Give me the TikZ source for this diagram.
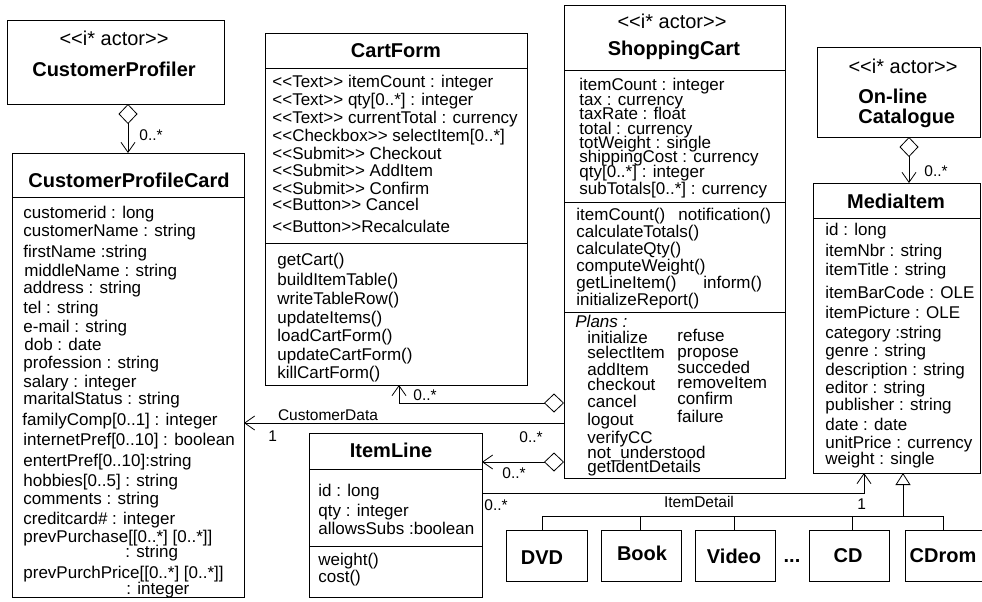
\documentclass[tikz,border=0pt]{standalone}
\usepackage{fontspec}
\newfontfamily\uf{Liberation Sans}[Ligatures=TeXOff]
\usetikzlibrary{arrows.meta}
\begin{document}
\begin{tikzpicture}[x=1pt,y=-1pt,line width=0.8pt,
  box/.style={draw, inner sep=0pt, outer sep=0pt, anchor=north west},
  tx/.style={inner sep=0pt, anchor=base west, font=\uf\fontsize{17}{17}\selectfont},
  ttl/.style={inner sep=0pt, anchor=base, font=\uf\bfseries\fontsize{20}{20}\selectfont},
  ttlw/.style={inner sep=0pt, anchor=base west, font=\uf\bfseries\fontsize{20}{20}\selectfont},
  stereo/.style={inner sep=0pt, anchor=base, font=\uf\fontsize{20}{20}\selectfont},
  lbl/.style={inner sep=0pt, anchor=base west, font=\uf\fontsize{15.5}{15.5}\selectfont},
  agg/.style={{Diamond[open,length=20pt,width=19pt]}-{Straight Barb[length=10pt,width=14pt]}},
  nav/.style={-{Straight Barb[length=10pt,width=14pt]}},
  gen/.style={-{Triangle[open,length=12pt,width=15pt]}},
  sep/.style={line width=0.8pt}]
\useasboundingbox (0,0) rectangle (982,602);
\fill[white] (0,0) rectangle (982,602);

% ---------- boxes ----------
\node[box, minimum width=217pt, minimum height=84pt] (cprof) at (7,20) {};
\node[box, minimum width=232pt, minimum height=444pt] (cpc) at (12,153) {};
\node[box, minimum width=262pt, minimum height=352pt] (cf) at (265,33) {};
\node[box, minimum width=221pt, minimum height=473pt] (cart) at (564,5) {};
\node[box, minimum width=163pt, minimum height=90pt] (cat) at (817,47) {};
\node[box, minimum width=167pt, minimum height=290pt] (media) at (813,183) {};
\node[box, minimum width=173pt, minimum height=164pt] (il) at (309,433) {};
\node[box, minimum width=81pt, minimum height=51pt] (dvd) at (506,530) {};
\node[box, minimum width=80pt, minimum height=51pt] (book) at (601,530) {};
\node[box, minimum width=80pt, minimum height=51pt] (video) at (695,530) {};
\node[box, minimum width=80pt, minimum height=51pt] (cd) at (809,530) {};
\node[box, minimum width=85pt, minimum height=51pt] (cdrom) at (905,530) {};

% ---------- compartment separators ----------
\draw[sep] (12,197) -- (244,197);
\draw[sep] (265,68) -- (527,68);
\draw[sep] (265,243) -- (527,243);
\draw[sep] (564,70) -- (785,70);
\draw[sep] (564,202) -- (785,202);
\draw[sep] (564,312) -- (785,312);
\draw[sep] (813,218) -- (980,218);
\draw[sep] (309,469) -- (482,469);
\draw[sep] (309,546) -- (482,546);

% ---------- titles ----------
\node[stereo] (cprofst) at (114,46) {<<i* actor>>};
\node[ttl] (cproft) at (114,77) {CustomerProfiler};
\node[ttl] (cpct) at (129,187) {CustomerProfileCard};
\node[ttl] (cft) at (396,58) {CartForm};
\node[stereo] (cartst) at (672,29) {<<i* actor>>};
\node[ttl] (cartt) at (674,56) {ShoppingCart};
\node[stereo] (catst) at (903,74) {<<i* actor>>};
\node[ttlw] (catt1) at (858,103) {On-line};
\node[ttlw] (catt2) at (858,123) {Catalogue};
\node[ttl] (mediat) at (896,208) {MediaItem};
\node[ttl] (ilt) at (391,457) {ItemLine};
\node[ttl] (dvdt) at (542,564) {DVD};
\node[ttl] (bookt) at (642,560) {Book};
\node[ttl] (videot) at (734,563) {Video};
\node[ttl] (dots) at (792,562) {...};
\node[ttl] (cdt) at (848,562) {CD};
\node[ttl] (cdromt) at (943,562) {CDrom};

% ---------- CustomerProfileCard attributes ----------
\foreach \xx/\yy/\ltext [count=\i] in {
  23/218/{customerid : long}, 23/236/{customerName : string}, 23/257/{firstName :string},
  24/276/{middleName : string}, 23/293/{address : string}, 23/313/{tel : string},
  23/332/{e-mail : string}, 24/350/{dob : date}, 23/368/{profession : string},
  23/387/{salary : integer}, 23/404/{maritalStatus : string}, 22/425/{familyComp[0..1] : integer},
  23/445/{internetPref[0..10] : boolean}, 23/466/{entertPref[0..10]:string},
  23/486/{hobbies[0..5] : string}, 23/504/{comments : string}, 23/524/{creditcard\# : integer},
  23/542/{prevPurchase[[0..*] [0..*]]}, 125/557/{: string},
  23/578/{prevPurchPrice[[0..*] [0..*]]}, 126/594/{: integer}}
  \node[tx] (cpca\i) at (\xx,\yy) {\ltext};

% ---------- CartForm ----------
\foreach \yy/\ltext [count=\i] in {
  88/{<<Text>> itemCount : integer}, 105/{<<Text>> qty[0..*] : integer},
  123/{<<Text>> currentTotal : currency}, 141/{<<Checkbox>> selectItem[0..*]},
  159/{<<Submit>> Checkout}, 176/{<<Submit>> AddItem}, 194/{<<Submit>> Confirm},
  210/{<<Button>> Cancel}, 232/{<<Button>>Recalculate}}
  \node[tx] (cfa\i) at (272,\yy) {\ltext};
\foreach \yy/\ltext [count=\i] in {
  265/{getCart()}, 285/{buildItemTable()}, 304/{writeTableRow()}, 323/{updateItems()},
  341/{loadCartForm()}, 360/{updateCartForm()}, 378/{killCartForm()}}
  \node[tx] (cfm\i) at (277,\yy) {\ltext};

% ---------- ShoppingCart ----------
\foreach \yy/\ltext [count=\i] in {
  90/{itemCount : integer}, 105/{tax : currency}, 119/{taxRate : float},
  134/{total : currency}, 148/{totWeight : single}, 162/{shippingCost : currency},
  177/{qty[0..*] : integer}, 194/{subTotals[0..*] : currency}}
  \node[tx] (carta\i) at (579,\yy) {\ltext};
\foreach \yy/\ltext [count=\i] in {
  220/{itemCount()}, 237/{calculateTotals()}, 254/{calculateQty()},
  271/{computeWeight()}, 288/{getLineItem()}, 305/{initializeReport()}}
  \node[tx] (cartm\i) at (576,\yy) {\ltext};
\node[tx] (cartm7) at (678,220) {notification()};
\node[tx] (cartm8) at (703,288) {inform()};
\node[tx, font=\uf\itshape\fontsize{17}{17}\selectfont] (plans) at (575,327) {Plans :};
\foreach \yy/\ltext [count=\i] in {
  343/{initialize}, 358/{selectItem}, 375/{addItem}, 390/{checkout}, 407/{cancel},
  425/{logout}, 443/{verifyCC}, 458/{not\_understood}, 472/{getIdentDetails}}
  \node[tx] (planl\i) at (587,\yy) {\ltext};
\foreach \yy/\ltext [count=\i] in {
  341/{refuse}, 357/{propose}, 373/{succeded}, 388/{removeItem}, 404/{confirm}, 422/{failure}}
  \node[tx] (planr\i) at (677,\yy) {\ltext};

% ---------- MediaItem ----------
\foreach \yy/\ltext [count=\i] in {
  235/{id : long}, 256/{itemNbr : string}, 275/{itemTitle : string},
  298/{itemBarCode : OLE}, 318/{itemPicture : OLE}, 338/{category :string},
  356/{genre : string}, 375/{description : string}, 393/{editor : string},
  410/{publisher : string}, 430/{date : date}, 448/{unitPrice : currency}, 464/{weight : single}}
  \node[tx] (mediaa\i) at (825,\yy) {\ltext};

% ---------- ItemLine ----------
\foreach \yy/\ltext [count=\i] in {
  496/{id : long}, 516/{qty : integer}, 534/{allowsSubs :boolean}, 565/{weight()}, 582/{cost()}}
  \node[tx] (ila\i) at (318,\yy) {\ltext};

% ---------- connectors ----------
\coordinate (kx1) at (128,0);
\coordinate (kx2) at (909,0);
\coordinate (ky1) at (0,403);
\coordinate (kx3) at (399,0);
\coordinate (ky2) at (0,423);
\coordinate (ky3) at (0,462);
\coordinate (ky4) at (0,493);
\coordinate (kx4) at (864,0);
\coordinate (kx5) at (903,0);
\coordinate (ky5) at (0,516);
\coordinate (gdvd) at (542,0);
\coordinate (gbook) at (640,0);
\coordinate (gvideo) at (734,0);
\coordinate (gcd) at (852,0);
\coordinate (gcdrom) at (943,0);

\draw[agg] (cprof.south -| kx1) -- (cpc.north -| kx1);
\draw[agg] (cat.south -| kx2) -- (media.north -| kx2);
\draw[agg] (cart.west |- ky1) -- (kx3 |- ky1) -- (cf.south -| kx3);
\draw[nav] (cart.west |- ky2) -- (cpc.east |- ky2);
\draw[agg] (cart.west |- ky3) -- (il.east |- ky3);
\draw[nav] (il.east |- ky4) -- (kx4 |- ky4) -- (media.south -| kx4);
\draw[gen] (kx5 |- ky5) -- (media.south -| kx5);
\draw (gdvd |- ky5) -- (gcdrom |- ky5);
\draw (gdvd |- ky5) -- (dvd.north -| gdvd);
\draw (gbook |- ky5) -- (book.north -| gbook);
\draw (gvideo |- ky5) -- (video.north -| gvideo);
\draw (gcd |- ky5) -- (cd.north -| gcd);
\draw (gcdrom |- ky5) -- (cdrom.north -| gcdrom);

% ---------- connector labels ----------
\node[lbl] (m1) at (139,140) {0..*};
\node[lbl] (m2) at (924,176) {0..*};
\node[lbl] (m3) at (413,400) {0..*};
\node[lbl, anchor=base] (cdata) at (328,420) {CustomerData};
\node[lbl] (m4) at (268,441) {1};
\node[lbl] (m5) at (519,442) {0..*};
\node[lbl] (m6) at (502,478) {0..*};
\node[lbl] (m7) at (484,510) {0..*};
\node[lbl, anchor=base] (idet) at (699,507) {ItemDetail};
\node[lbl] (m8) at (857,509) {1};
\end{tikzpicture}
\end{document}
